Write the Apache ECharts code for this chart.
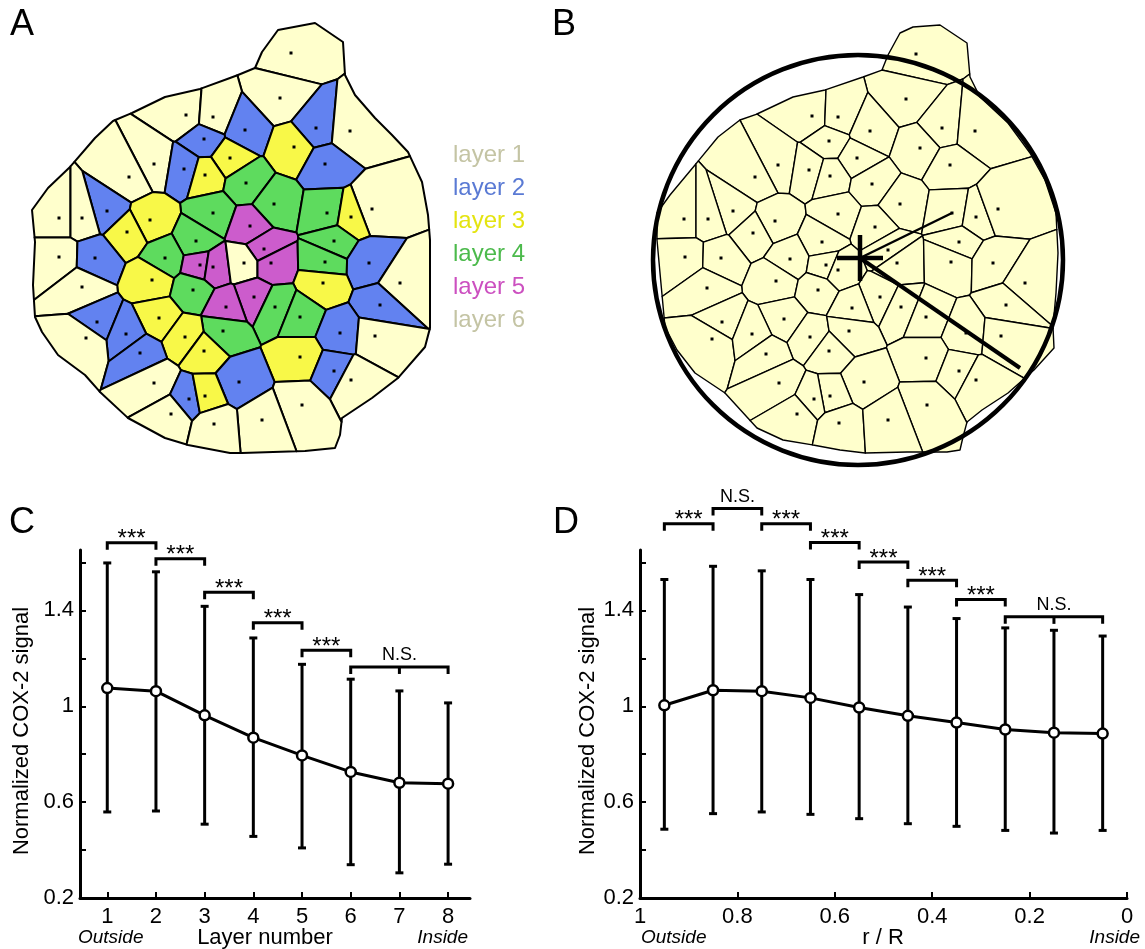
<!DOCTYPE html>
<html>
<head>
<meta charset="utf-8">
<script src="https://cdn.jsdelivr.net/npm/echarts@6/dist/echarts.min.js"></script>
<style>
html,body{margin:0;padding:0;background:#fff;}
#chart{width:1145px;height:949px;}
</style>
</head>
<body>
<div id="chart"></div>
<script>
// ---------- Panel A: cell centres [x, y, layer] and tissue outline ----------
const seedsA = [
[291,53,1],[280,98,1],[186,115,1],[213,117,1],[245,130,2],[316,128,2],[350,131,1],[204,139,2],[294,147,3],[230,158,3],
[154,164,1],[184,169,2],[325,164,2],[129,177,1],[205,175,3],[246,183,4],[274,204,4],[107,211,2],[213,213,4],[327,213,4],
[372,209,1],[351,217,3],[59,218,1],[82,218,1],[150,220,3],[250,226,5],[127,232,3],[196,241,4],[334,241,4],[264,249,5],
[59,257,1],[95,258,2],[165,258,4],[200,265,5],[213,267,5],[244,263,6],[271,263,5],[325,262,4],[369,263,2],[152,280,3],
[323,283,3],[400,283,1],[82,287,1],[193,290,4],[254,297,5],[226,307,5],[275,307,4],[380,305,2],[159,318,3],[300,317,4],
[97,322,2],[223,331,4],[340,333,2],[126,334,2],[185,337,3],[375,336,1],[86,338,1],[204,351,3],[140,353,2],[300,357,3],
[334,371,2],[239,382,2],[154,383,1],[351,380,1],[189,399,2],[205,396,3],[302,405,1],[171,414,1],[262,420,1],[214,424,1]
];
const outlineA = [
[255,68],[262,52],[278,30],[315,23],[343,42],[345,75],[355,95],[375,118],[392,135],[408,152],[422,182],[428,215],[430,240],
[430,328],[425,347],[398,378],[372,398],[342,418],[340,435],[335,448],[305,451],[242,453],[230,453],[188,445],[165,438],
[128,418],[100,392],[85,375],[58,355],[42,332],[35,317],[33,285],[35,242],[32,210],[48,188],[70,167],[95,138],[113,121],
[132,113],[165,97],[200,89],[230,78],[238,75]
];
const layerNames = ['layer 1','layer 2','layer 3','layer 4','layer 5','layer 6'];
const layerFill = ['#ffffcc','#6282f0','#f8f848','#5edb5e','#cc5ccc','#ffffcc'];
const layerText = ['#c4c4a4','#5a7ad4','#e4e410','#4cba4c','#cc50c0','#c4c4a4'];

// ---------- Panel B: cell centres, outline, fitted circle, centre, radii ----------
const seedsB = [
[916,54],[906,99],[812,116],[838,117],[870,131],[942,128],[975,131],[829,141],[920,148],[857,158],
[778,165],[809,170],[830,176],[755,177],[950,165],[872,184],[900,204],[733,211],[684,219],[708,219],
[775,221],[838,214],[952,213],[976,217],[998,209],[753,233],[875,227],[822,242],[959,242],[888,250],
[685,257],[721,258],[790,259],[826,265],[838,270],[897,263],[951,262],[993,263],[1025,283],[776,281],
[707,288],[818,290],[880,297],[852,308],[901,307],[1006,305],[784,319],[722,322],[926,317],[712,339],
[752,334],[810,337],[849,331],[966,333],[1001,336],[829,351],[766,354],[926,358],[959,371],[976,380],
[864,382],[779,383],[830,396],[814,399],[927,405],[797,414],[839,423],[888,420]
];
const outlineB = [
[882,70],[888,55],[900,33],[913,27],[940,25],[967,43],[970,77],[980,97],[1008,123],[1030,153],[1045,180],[1056,213],
[1058,253],[1056,293],[1053,327],[1054,348],[1034,370],[1008,393],[982,410],[967,422],[963,437],[960,450],[947,452],
[907,452],[865,453],[840,450],[813,445],[783,440],[757,428],[725,393],[695,373],[677,350],[665,327],[660,273],[657,240],
[657,213],[670,195],[695,165],[718,137],[740,120],[757,114],[793,97],[825,90],[863,77]
];
const circleB = [858, 260, 205];      // centre x, centre y, radius
const crossB = [860, 258, 23];        // centre x, centre y, half arm
const smallR_end = [952, 213];
const bigR_end = [1020, 368];

// ---------- Panel C ----------
const layersC = [1,2,3,4,5,6,7,8];
const meanC  = [1.076,1.063,0.962,0.869,0.795,0.726,0.681,0.677];
const upperC = [1.598,1.561,1.417,1.285,1.175,1.113,1.064,1.014];
const lowerC = [0.559,0.563,0.508,0.457,0.409,0.339,0.305,0.341];
const bracketsC = [[1,2,1.682,'***'],[2,3,1.616,'***'],[3,4,1.476,'***'],[4,5,1.348,'***'],[5,6,1.234,'***'],[6,8,1.164,'N.S.',[7]]];
const xTicksC = [1,2,3,4,5,6,7,8];

// ---------- Panel D ----------
const rR = [0.95,0.85,0.75,0.65,0.55,0.45,0.35,0.25,0.15,0.05];
const meanD  = [1.004,1.067,1.063,1.035,0.995,0.960,0.932,0.903,0.890,0.886];
const upperD = [1.529,1.584,1.565,1.529,1.466,1.414,1.366,1.327,1.317,1.293];
const lowerD = [0.487,0.552,0.559,0.549,0.531,0.510,0.499,0.482,0.471,0.482];
const bracketsD = [[0.95,0.85,1.762,'***'],[0.85,0.75,1.825,'N.S.'],[0.75,0.65,1.762,'***'],[0.65,0.55,1.683,'***'],
  [0.55,0.45,1.602,'***'],[0.45,0.35,1.526,'***'],[0.35,0.25,1.445,'***'],[0.25,0.05,1.373,'N.S.',[0.15]]];
const xTicksD = [0,0.2,0.4,0.6,0.8,1];
const xLabelsD = [0,0.2,0.4,0.6,0.8,1];

const yTicks = [0.2,0.4,0.6,0.8,1,1.2,1.4,1.6];
const yLabels = [0.2,0.6,1,1.4];

const FONT = 'Liberation Sans, Arial, Helvetica, sans-serif';

// ---------- Voronoi (half-plane clipping of the outline) ----------
function clipHalf(poly, a, b, c) {
  const out = [], n = poly.length;
  for (let k = 0; k < n; k++) {
    const P = poly[k], Q = poly[(k + 1) % n];
    const dp = a * P[0] + b * P[1] - c, dq = a * Q[0] + b * Q[1] - c;
    if (dp <= 0) out.push(P);
    if ((dp < 0 && dq > 0) || (dp > 0 && dq < 0)) {
      const t = dp / (dp - dq);
      out.push([P[0] + t * (Q[0] - P[0]), P[1] + t * (Q[1] - P[1])]);
    }
  }
  return out;
}
function voronoi(seeds, outline) {
  return seeds.map((s, i) => {
    let poly = outline.map(p => [p[0], p[1]]);
    for (let j = 0; j < seeds.length && poly.length >= 3; j++) {
      if (j === i) continue;
      const t = seeds[j];
      poly = clipHalf(poly, 2 * (t[0] - s[0]), 2 * (t[1] - s[1]),
        t[0] * t[0] + t[1] * t[1] - s[0] * s[0] - s[1] * s[1]);
    }
    return poly;
  });
}
const cellsA = voronoi(seedsA, outlineA);
const cellsB = voronoi(seedsB, outlineB);

function cellSeries(seeds, cells, fillFn, lw) {
  return {
    type: 'custom', xAxisIndex: 0, yAxisIndex: 0, clip: false, silent: true, z: 1,
    data: seeds.map(s => [s[0], s[1]]),
    renderItem: (params, api) => {
      const i = params.dataIndex;
      const pts = cells[i].map(p => api.coord(p));
      const c = api.coord([api.value(0), api.value(1)]);
      return { type: 'group', children: [
        { type: 'polygon', shape: { points: pts }, style: { fill: fillFn(i), stroke: '#000', lineWidth: lw, lineJoin: 'round' } },
        { type: 'rect', shape: { x: c[0] - 1.5, y: c[1] - 1.5, width: 3, height: 3 }, style: { fill: '#000' } }
      ]};
    }
  };
}

function errorSeries(xs, lo, hi, xi, yi) {
  return {
    type: 'custom', xAxisIndex: xi, yAxisIndex: yi, silent: true, z: 2, clip: false,
    data: xs.map((x, i) => [x, lo[i], hi[i]]),
    renderItem: (params, api) => {
      const a = api.coord([api.value(0), api.value(1)]);
      const b = api.coord([api.value(0), api.value(2)]);
      const w = 4, st = { stroke: '#000', lineWidth: 3 };
      return { type: 'group', children: [
        { type: 'line', shape: { x1: a[0], y1: a[1], x2: b[0], y2: b[1] }, style: st },
        { type: 'line', shape: { x1: a[0] - w, y1: a[1], x2: a[0] + w, y2: a[1] }, style: st },
        { type: 'line', shape: { x1: b[0] - w, y1: b[1], x2: b[0] + w, y2: b[1] }, style: st }
      ]};
    }
  };
}

function bracketSeries(list, xi, yi) {
  return {
    type: 'custom', xAxisIndex: xi, yAxisIndex: yi, silent: true, z: 4, clip: false,
    data: list.map(b => [b[0], b[2]]),
    renderItem: (params, api) => {
      const b = list[params.dataIndex];
      const p1 = api.coord([b[0], b[2]]), p2 = api.coord([b[1], b[2]]);
      const drop = 7, st = { stroke: '#000', lineWidth: 3, fill: null };
      const ch = [{ type: 'polyline', shape: { points: [[p1[0], p1[1] + drop], [p1[0], p1[1]], [p2[0], p2[1]], [p2[0], p2[1] + drop]] }, style: st }];
      (b[4] || []).forEach(m => {
        const pm = api.coord([m, b[2]]);
        ch.push({ type: 'line', shape: { x1: pm[0], y1: pm[1], x2: pm[0], y2: pm[1] + drop }, style: st });
      });
      const ns = b[3] !== '***';
      ch.push({ type: 'text', x: (p1[0] + p2[0]) / 2, y: p1[1] - (ns ? 12 : 3),
        style: { text: b[3], fontSize: ns ? 18 : 24, fontFamily: FONT, fill: '#000', align: 'center', verticalAlign: 'middle' } });
      return { type: 'group', children: ch };
    }
  };
}

function lineSeries(xs, ys, xi, yi) {
  return {
    type: 'line', xAxisIndex: xi, yAxisIndex: yi, z: 3, silent: true,
    data: xs.map((x, i) => [x, ys[i]]),
    symbol: 'circle', symbolSize: 10,
    itemStyle: { color: '#fff', borderColor: '#000', borderWidth: 2.5 },
    lineStyle: { color: '#000', width: 3 }
  };
}

function plotX(grid, min, max, inverse, ticks, labels) {
  return {
    gridIndex: grid, type: 'value', min: min, max: max, inverse: inverse,
    axisLine: { show: true, onZero: false, lineStyle: { color: '#000', width: 3 } },
    axisTick: { show: true, inside: true, length: 6, customValues: ticks, lineStyle: { color: '#000', width: 2 } },
    axisLabel: { customValues: labels, color: '#000', fontSize: 22, fontFamily: FONT, margin: 8 },
    splitLine: { show: false }
  };
}
function plotY(grid) {
  return {
    gridIndex: grid, type: 'value', min: 0.2, max: 1.652,
    axisLine: { show: true, onZero: false, lineStyle: { color: '#000', width: 3 } },
    axisTick: { show: true, inside: true, length: 6, customValues: yTicks, lineStyle: { color: '#000', width: 2 } },
    axisLabel: { customValues: yLabels, color: '#000', fontSize: 22, fontFamily: FONT, margin: 6 },
    splitLine: { show: false }
  };
}

function txt(text, x, y, opts) {
  return Object.assign({ type: 'text', x: x, y: y, silent: true,
    style: Object.assign({ text: text, fontSize: 22, fontFamily: FONT, fill: '#000', align: 'left', verticalAlign: 'middle' }, (opts && opts.style) || {}) },
    (opts && opts.el) || {});
}

const graphics = [
  txt('A', 22, 25, { style: { fontSize: 36, align: 'center' } }),
  txt('B', 564, 25, { style: { fontSize: 36, align: 'center' } }),
  txt('C', 22, 523, { style: { fontSize: 36, align: 'center' } }),
  txt('D', 566, 523, { style: { fontSize: 36, align: 'center' } }),
  txt('r', 913, 212, { style: { fontSize: 30, fontWeight: 'bold', align: 'center' } }),
  txt('R', 959, 292, { style: { fontSize: 32, fontWeight: 'bold', align: 'center' } }),
  txt('Outside', 78, 938, { style: { fontSize: 19, fontStyle: 'italic' } }),
  txt('Layer number', 265, 938, { style: { align: 'center' } }),
  txt('Inside', 468, 938, { style: { fontSize: 19, fontStyle: 'italic', align: 'right' } }),
  txt('Outside', 641, 938, { style: { fontSize: 19, fontStyle: 'italic' } }),
  txt('r / R', 883, 938, { style: { align: 'center' } }),
  txt('Inside', 1140, 938, { style: { fontSize: 19, fontStyle: 'italic', align: 'right' } }),
  txt('Normalized COX-2 signal', 22, 731, { style: { align: 'center' }, el: { rotation: Math.PI / 2 } }),
  txt('Normalized COX-2 signal', 588, 731, { style: { align: 'center' }, el: { rotation: Math.PI / 2 } })
];
layerNames.forEach((n, i) => graphics.push(txt(n, 453, 155 + i * 33, { style: { fontSize: 24, fill: layerText[i] } })));

const chart = echarts.init(document.getElementById('chart'), null, { renderer: 'canvas' });
chart.setOption({
  animation: false,
  backgroundColor: '#fff',
  grid: [
    { left: 0, top: 0, width: 1145, height: 949 },
    { left: 80, top: 550, width: 390, height: 348 },
    { left: 640, top: 550, width: 487, height: 348 }
  ],
  xAxis: [
    { gridIndex: 0, type: 'value', min: 0, max: 1145, show: false },
    plotX(1, 0.44, 8.45, false, xTicksC, xTicksC),
    plotX(2, 0, 1, true, xTicksD, xLabelsD)
  ],
  yAxis: [
    { gridIndex: 0, type: 'value', min: 0, max: 949, inverse: true, show: false },
    plotY(1),
    plotY(2)
  ],
  graphic: graphics,
  series: [
    cellSeries(seedsA, cellsA, i => layerFill[seedsA[i][2] - 1], 2),
    cellSeries(seedsB, cellsB, () => '#ffffcc', 1.4),
    {
      type: 'custom', xAxisIndex: 0, yAxisIndex: 0, clip: false, silent: true, z: 5,
      data: [circleB],
      renderItem: (params, api) => {
        const c = api.coord([api.value(0), api.value(1)]);
        const r = api.size([api.value(2), 0])[0];
        return { type: 'circle', shape: { cx: c[0], cy: c[1], r: r }, style: { fill: null, stroke: '#000', lineWidth: 4.5 } };
      }
    },
    {
      type: 'custom', xAxisIndex: 0, yAxisIndex: 0, clip: false, silent: true, z: 6,
      data: [crossB],
      renderItem: (params, api) => {
        const x = api.value(0), y = api.value(1), h = api.value(2);
        const c = api.coord([x, y]);
        const l = api.coord([x - h, y]), rgt = api.coord([x + h, y]);
        const t = api.coord([x, y - h]), b = api.coord([x, y + h]);
        const s1 = api.coord(smallR_end), s2 = api.coord(bigR_end);
        const st = { stroke: '#000', lineWidth: 4.5 };
        return { type: 'group', children: [
          { type: 'line', shape: { x1: l[0], y1: l[1], x2: rgt[0], y2: rgt[1] }, style: st },
          { type: 'line', shape: { x1: t[0], y1: t[1], x2: b[0], y2: b[1] }, style: st },
          { type: 'line', shape: { x1: c[0], y1: c[1], x2: s1[0], y2: s1[1] }, style: { stroke: '#000', lineWidth: 2.5 } },
          { type: 'line', shape: { x1: c[0], y1: c[1], x2: s2[0], y2: s2[1] }, style: { stroke: '#000', lineWidth: 4 } }
        ]};
      }
    },
    errorSeries(layersC, lowerC, upperC, 1, 1),
    lineSeries(layersC, meanC, 1, 1),
    bracketSeries(bracketsC, 1, 1),
    errorSeries(rR, lowerD, upperD, 2, 2),
    lineSeries(rR, meanD, 2, 2),
    bracketSeries(bracketsD, 2, 2)
  ]
});
</script>
</body>
</html>
